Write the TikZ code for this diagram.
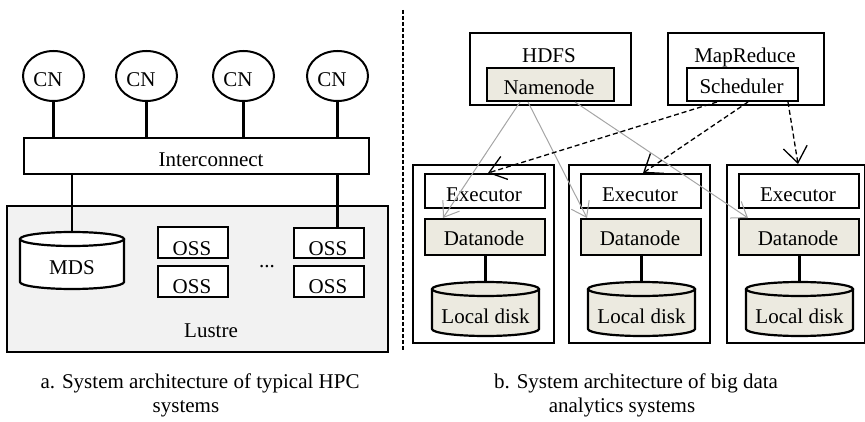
\documentclass[tikz,border=0pt]{standalone}
\usepackage{fontspec}
\setmainfont{Liberation Serif}
\usetikzlibrary{arrows.meta,calc,shapes.geometric}
\definecolor{beige}{RGB}{236,234,224}
\definecolor{lgray}{RGB}{242,242,242}
\definecolor{arrgray}{RGB}{165,165,165}
\begin{document}
\begin{tikzpicture}[x=1pt,y=-1pt,
  font=\fontsize{21}{25}\selectfont,
  box/.style={draw, line width=2pt, inner sep=0pt, anchor=north west},
  txt/.style={anchor=base, inner sep=0pt},
  wire/.style={line width=2.2pt},
  cnode/.style={draw, ellipse, line width=2pt, minimum width=61, minimum height=50, inner sep=0pt},
  hdfsarrow/.style={draw=arrgray, line width=1pt, -{Straight Barb[length=14pt,width=20pt]}},
  schedarrow/.style={line width=1.3pt, dash pattern=on 5pt off 3pt, -{Straight Barb[length=16pt,width=24pt]}},
  sep/.style={line width=1.3pt, dash pattern=on 4pt off 2pt}
]
\useasboundingbox (0,0) rectangle (865,422);

% ---------- left panel ----------
\node[box, fill=lgray, minimum width=381, minimum height=146] (lustre) at (6,205) {};
\node[txt] (lustret) at (211,337) {Lustre};

\node[box, minimum width=345, minimum height=36] (ic) at (23,137) {};
\node[txt] (ict) at (211,167) {Interconnect};

\foreach \i/\x in {1/53.5,2/146.5,3/243.5,4/337.5}{
  \node[cnode] (cn\i) at (\x,76) {};
  \node[txt] (cnt\i) at (\x-5.5,87) {CN};
  \draw[wire] (cn\i.south) -- (cn\i.south |- ic.north);
}

% MDS cylinder
\coordinate (mds) at (72,232);
\fill[white] (20,239) -- (20,282) arc[start angle=180,end angle=0,x radius=52,y radius=7] -- (124,239) -- cycle;
\draw[wire] (20,239) -- (20,282) arc[start angle=180,end angle=0,x radius=52,y radius=7] -- (124,239);
\draw[wire, fill=white] (72,239) ellipse[x radius=52, y radius=7];
\node[txt] (mdst) at (72,275) {MDS};

% OSS boxes
\node[box, fill=white, minimum width=70, minimum height=31] (oss1) at (157,226) {};
\node[box, fill=white, minimum width=70, minimum height=31] (oss2) at (157,265) {};
\node[box, fill=white, minimum width=70, minimum height=30] (oss3) at (293,227) {};
\node[box, fill=white, minimum width=70, minimum height=31] (oss4) at (293,265) {};
\node[txt] (osst1) at (192,255) {OSS};
\node[txt] (osst2) at (192,293) {OSS};
\node[txt] (osst3) at (328,255) {OSS};
\node[txt] (osst4) at (328,293) {OSS};
\node[txt] (dots) at (267,268) {...};

\draw[wire] (mds |- ic.south) -- (mds);
\draw[wire] ($(oss1.north)+(-3,0)$ |- ic.south) -- ($(oss1.north)+(-3,0)$);
\draw[wire] (cn4 |- ic.south) -- (cn4 |- oss3.north);

\node[txt] (capa1) at (200,388) {a. System architecture of typical HPC};
\node[txt] (capa2) at (186,412) {systems};

% separator
\coordinate (septop) at (403,10);
\coordinate (sepbot) at (403,350);
\draw[sep] (septop) -- (sepbot);

% ---------- right panel ----------
\node[box, minimum width=161, minimum height=72] (hdfs) at (469,32) {};
\node[txt] (hdfst) at (549,63) {HDFS};
\node[box, fill=beige, minimum width=127, minimum height=33] (nn) at (486,67) {};
\node[txt] (nnt) at (549,95) {Namenode};

\node[box, minimum width=156, minimum height=72] (mr) at (667,32) {};
\node[txt] (mrt) at (745,63) {MapReduce};
\node[box, minimum width=111, minimum height=33] (sc) at (686,67) {};
\node[txt] (sct) at (741.5,94) {Scheduler};

\foreach \s/\n/\w in {0/1/141,156/2/141,314/3/138}{
  \node[box, minimum width=\w, minimum height=178] (c\n) at (412+\s,164) {};
  \node[box, minimum width=120, minimum height=34] (ex\n) at (424+\s,173) {};
  \node[txt] (ext\n) at (484+\s,202) {Executor};
  \node[box, fill=beige, minimum width=120, minimum height=36] (dn\n) at (424+\s,218) {};
  \node[txt] (dnt\n) at (484+\s,246) {Datanode};
  \coordinate (disk\n) at (485.5+\s,282);
  \draw[wire] (dn\n.south -| disk\n) -- (disk\n);
  \fill[beige] (432+\s,289) -- (432+\s,329) arc[start angle=180,end angle=0,x radius=53.5,y radius=7] -- (539+\s,289) -- cycle;
  \draw[wire] (432+\s,289) -- (432+\s,329) arc[start angle=180,end angle=0,x radius=53.5,y radius=7] -- (539+\s,289);
  \draw[wire, fill=beige] (485.5+\s,289) ellipse[x radius=53.5, y radius=7];
  \node[txt] (diskt\n) at (485.5+\s,323) {Local disk};
}

% HDFS arrows
\draw[hdfsarrow] ($(nn.south west)+(34,0)$) -- ($(dn1.north west)+(19,0)$);
\draw[hdfsarrow] ($(nn.south west)+(42,0)$) -- ($(dn2.north west)+(7,0)$);
\draw[hdfsarrow] ($(nn.south west)+(89,0)$) -- ($(dn3.north west)+(10,0)$);

% Scheduler arrows
\draw[schedarrow] ($(sc.south west)+(31,0)$) -- ($(ex1.north)+(3,0)$);
\draw[schedarrow] ($(sc.south west)+(62,0)$) -- ($(ex2.north)+(2,0)$);
\draw[schedarrow] ($(sc.south west)+(102,0)$) -- ($(c3.north)+(2,0)$);

\node[txt] (capb1) at (636,388) {b. System architecture of big data};
\node[txt] (capb2) at (622,412) {analytics systems};
\end{tikzpicture}
\end{document}
